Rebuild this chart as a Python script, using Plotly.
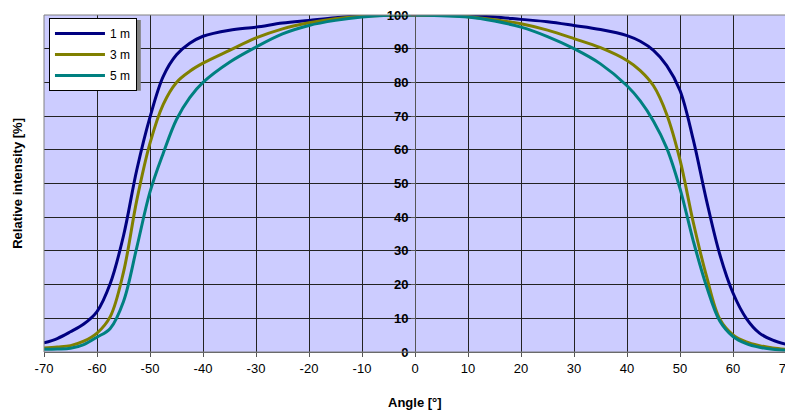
import plotly.graph_objects as go

angles = [-70, -67.5, -65, -62.5, -60, -57.5, -55, -52.5, -50, -47.5, -45, -42.5, -40,
          -35, -30, -25, -20, -15, -10, -5, 0, 5, 10, 15, 20, 25, 30, 35,
          40, 42.5, 45, 47.5, 50, 52.5, 55, 57.5, 60, 62.5, 65, 67.5, 70]

int_1m = [2.7, 4.0, 6.0, 8.3, 12, 20.3, 34.5, 54, 69.7, 81.8, 88.2, 91.6, 93.7,
          95.5, 96.4, 97.6, 98.4, 99.2, 99.8, 100, 100, 100, 99.8, 99.4, 98.7, 98, 96.9, 95.7,
          93.9, 92.2, 89.5, 85, 77.6, 63, 45, 29, 17.5, 10, 5.6, 3.5, 2.3]

int_3m = [1.2, 1.5, 1.9, 3.2, 5.6, 10.5, 23.7, 45, 62, 73.5, 80, 83.3, 85.7,
          89.5, 93.2, 95.9, 97.7, 98.9, 99.6, 99.9, 100, 99.9, 99.5, 98.6, 97.4, 95.5, 93.0, 90.3,
          86.5, 83.5, 79, 70.5, 57, 38.5, 22.5, 9.8, 5.1, 3, 1.9, 1.2, 0.8]

int_5m = [0.8, 0.9, 1.1, 2.2, 4.4, 7, 15, 31, 47.5, 59, 69, 75.5, 80,
          86, 90.5, 94.4, 96.9, 98.4, 99.4, 99.9, 100, 99.8, 99.4, 98.2, 96.4, 93.6, 90, 85.5,
          79, 74.5, 68.5, 60.5, 48.5, 33, 19.5, 9.2, 4.6, 2.5, 1.4, 0.8, 0.5]

series = [("1 m", int_1m, "#000080"), ("3 m", int_3m, "#808000"), ("5 m", int_5m, "#008080")]

x_ticks = list(range(-70, 71, 10))
y_ticks = list(range(0, 101, 10))

fig = go.Figure()
for name, vals, col in series:
    fig.add_trace(go.Scatter(x=angles, y=vals, mode="lines", name=name, legendgroup=name,
                             line=dict(color=col, width=3, shape="spline", smoothing=1.0)))

font_fam = "Liberation Sans, Arial, sans-serif"
fig.update_layout(
    width=785, height=402,
    margin=dict(l=36, r=7, t=7, b=58, autoexpand=False),
    paper_bgcolor="white", plot_bgcolor="#CCCCFF",
    font=dict(family=font_fam, size=13, color="black"),
    showlegend=True,
    legend=dict(x=0.0067, y=0.991, xanchor="left", yanchor="top",
                bgcolor="white", bordercolor="black", borderwidth=1,
                font=dict(size=12), itemwidth=50, tracegroupgap=2),
    xaxis=dict(range=[-70, 70], tickvals=x_ticks, ticktext=[str(v) for v in x_ticks],
               showgrid=True, gridcolor="#222222", gridwidth=1, zeroline=False,
               showline=True, linecolor="#555555", linewidth=1,
               ticks="outside", ticklen=4, tickcolor="#555555", automargin=False,
               ticklabeloverflow="allow", tickfont=dict(size=13)),
    yaxis=dict(range=[0, 100], tickvals=y_ticks, ticktext=[str(v) for v in y_ticks],
               anchor="free", position=0.5, automargin=False,
               showgrid=True, gridcolor="#222222", gridwidth=1, zeroline=False,
               showline=True, linecolor="#555555", linewidth=1,
               ticks="outside", ticklen=4, tickcolor="#555555",
               ticklabeloverflow="allow", tickfont=dict(size=13, weight="bold")),
    shapes=[
        dict(type="rect", xref="paper", yref="paper", x0=0, y0=0, x1=1, y1=1,
             line=dict(color="#808080", width=1)),
        dict(type="rect", xref="paper", yref="paper", x0=0.0095, y0=0.775, x1=0.1305, y1=0.985,
             fillcolor="#808080", line=dict(width=0), layer="above"),
    ],
    annotations=[
        dict(text="<b>Angle [°]</b>", xref="paper", yref="paper", x=0.5, y=-0.151,
             xanchor="center", yanchor="middle", showarrow=False, font=dict(size=13)),
        dict(text="<b>Relative intensity [%]</b>", xref="paper", yref="paper",
             x=-0.036, y=0.5, xanchor="center", yanchor="middle", textangle=-90,
             showarrow=False, font=dict(size=13)),
    ],
)

fig.write_html("out.html")
